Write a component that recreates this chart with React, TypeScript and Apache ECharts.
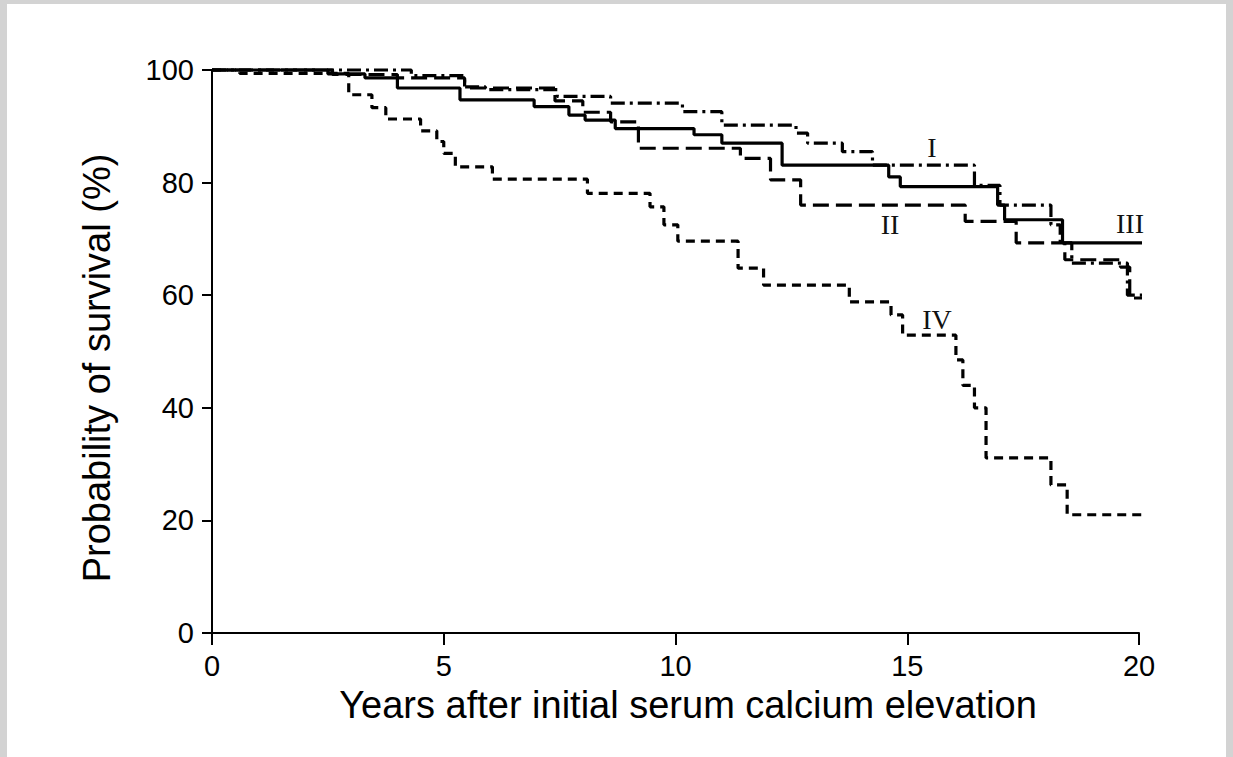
import React, { useEffect, useRef } from "react";
import * as echarts from "echarts";

// Years after initial serum calcium elevation (x) vs survival % (y), Kaplan-Meier steps
const curveI: [number, number][] = [
  [0, 100], [4.3, 99.0], [5.45, 97.0], [5.9, 96.5], [7.45, 95.3], [8.6, 94.1],
  [10.15, 92.6], [11.0, 90.2], [12.6, 88.8], [12.85, 87.0], [13.6, 85.5],
  [14.25, 83.1], [16.45, 79.5], [17.0, 76.0], [18.1, 72.5], [18.3, 69.3],
  [18.55, 65.7], [19.75, 60.0], [20.2, 60.0],
];
const curveII: [number, number][] = [
  [0, 100], [2.6, 99.2], [4.0, 98.6], [5.45, 96.8], [7.4, 94.5], [8.0, 92.5],
  [8.6, 90.8], [9.2, 86.1], [11.4, 84.3], [12.05, 80.5], [12.7, 76.0],
  [16.25, 73.1], [17.35, 69.3], [18.4, 66.3], [19.6, 65.0], [19.8, 59.5], [20.2, 59.5],
];
const curveIII: [number, number][] = [
  [0, 100], [2.5, 99.3], [3.3, 98.6], [4.0, 96.8], [5.35, 94.7], [6.95, 93.5],
  [7.7, 92.0], [8.05, 91.1], [8.7, 89.6], [10.4, 88.5], [11.0, 87.0],
  [12.3, 83.1], [14.6, 81.0], [14.85, 79.3], [16.95, 76.0], [17.1, 73.4],
  [18.35, 69.3], [20.2, 69.3],
];
const curveIV: [number, number][] = [
  [0, 100], [0.6, 99.4], [2.95, 95.6], [3.45, 93.3], [3.75, 91.3], [4.5, 89.2],
  [4.85, 87.3], [5.0, 85.2], [5.25, 82.8], [6.05, 80.6], [8.1, 78.1],
  [9.45, 75.7], [9.75, 72.5], [10.05, 69.6], [11.35, 64.8], [11.9, 61.8],
  [13.75, 58.8], [14.65, 56.5], [14.9, 52.9], [16.05, 48.5], [16.2, 44.0],
  [16.45, 40.0], [16.7, 31.1], [18.1, 26.3], [18.45, 21.0], [20.1, 21.0],
];

const curveLabels = ["I", "II", "III", "IV"];
const xTitle = "Years after initial serum calcium elevation";
const yTitle = "Probability of survival (%)";

export default function App() {
  const ref = useRef<HTMLDivElement>(null);
  useEffect(() => {
    if (!ref.current) return;
    const chart = echarts.init(ref.current, null, { renderer: "svg" });
    const lineBase = (name: string, data: [number, number][], type: any) => ({
      name,
      type: "line",
      step: "end",
      data,
      symbol: "none",
      clip: false,
      lineStyle: { color: "#000", width: 3.2, type },
      z: 3,
    });
    const labelText = (text: string, x: number, y: number) => ({
      type: "text",
      x,
      y,
      style: {
        text,
        fill: "#111",
        font: "28px 'Liberation Serif', serif",
        textAlign: "center",
        textVerticalAlign: "middle",
      },
    });
    chart.setOption({
      animation: false,
      backgroundColor: "#fff",
      grid: { left: 205, right: 87, top: 66, bottom: 124 },
      xAxis: {
        type: "value",
        min: 0,
        max: 20,
        interval: 5,
        splitLine: { show: false },
        axisLine: { lineStyle: { color: "#000", width: 2 } },
        axisTick: { length: 12, lineStyle: { color: "#000", width: 2 } },
        axisLabel: {
          color: "#000",
          fontSize: 29,
          fontFamily: "'Liberation Sans', Arial, sans-serif",
          margin: 18,
        },
      },
      yAxis: {
        type: "value",
        min: 0,
        max: 100,
        interval: 20,
        splitLine: { show: false },
        axisLine: { show: true, lineStyle: { color: "#000", width: 2 } },
        axisTick: { show: true, length: 10, lineStyle: { color: "#000", width: 2 } },
        axisLabel: {
          color: "#000",
          fontSize: 29,
          fontFamily: "'Liberation Sans', Arial, sans-serif",
          margin: 18,
        },
      },
      series: [
        lineBase(curveLabels[0], curveI, [14, 5, 3, 5]),
        lineBase(curveLabels[1], curveII, [16, 7]),
        lineBase(curveLabels[2], curveIII, "solid"),
        lineBase(curveLabels[3], curveIV, [9, 6]),
      ],
      graphic: [
        {
          type: "text",
          x: 681,
          y: 701,
          style: {
            text: xTitle,
            fill: "#000",
            font: "38px 'Liberation Sans', Arial, sans-serif",
            textAlign: "center",
            textVerticalAlign: "middle",
          },
        },
        {
          type: "text",
          x: 90,
          y: 364,
          rotation: Math.PI / 2,
          style: {
            text: yTitle,
            fill: "#000",
            font: "38px 'Liberation Sans', Arial, sans-serif",
            textAlign: "center",
            textVerticalAlign: "middle",
          },
        },
        labelText(curveLabels[0], 925, 143),
        labelText(curveLabels[1], 883, 220),
        labelText(curveLabels[2], 1123, 219),
        labelText(curveLabels[3], 930, 315),
      ],
    });
    return () => chart.dispose();
  }, []);
  return (
    <div
      style={{
        position: "fixed",
        left: 0,
        top: 0,
        width: 1233,
        height: 757,
        background: "#d3d3d3",
      }}
    >
      <div
        ref={ref}
        style={{
          position: "absolute",
          left: 7,
          top: 4,
          width: 1219,
          height: 753,
          background: "#fff",
        }}
      />
    </div>
  );
}
